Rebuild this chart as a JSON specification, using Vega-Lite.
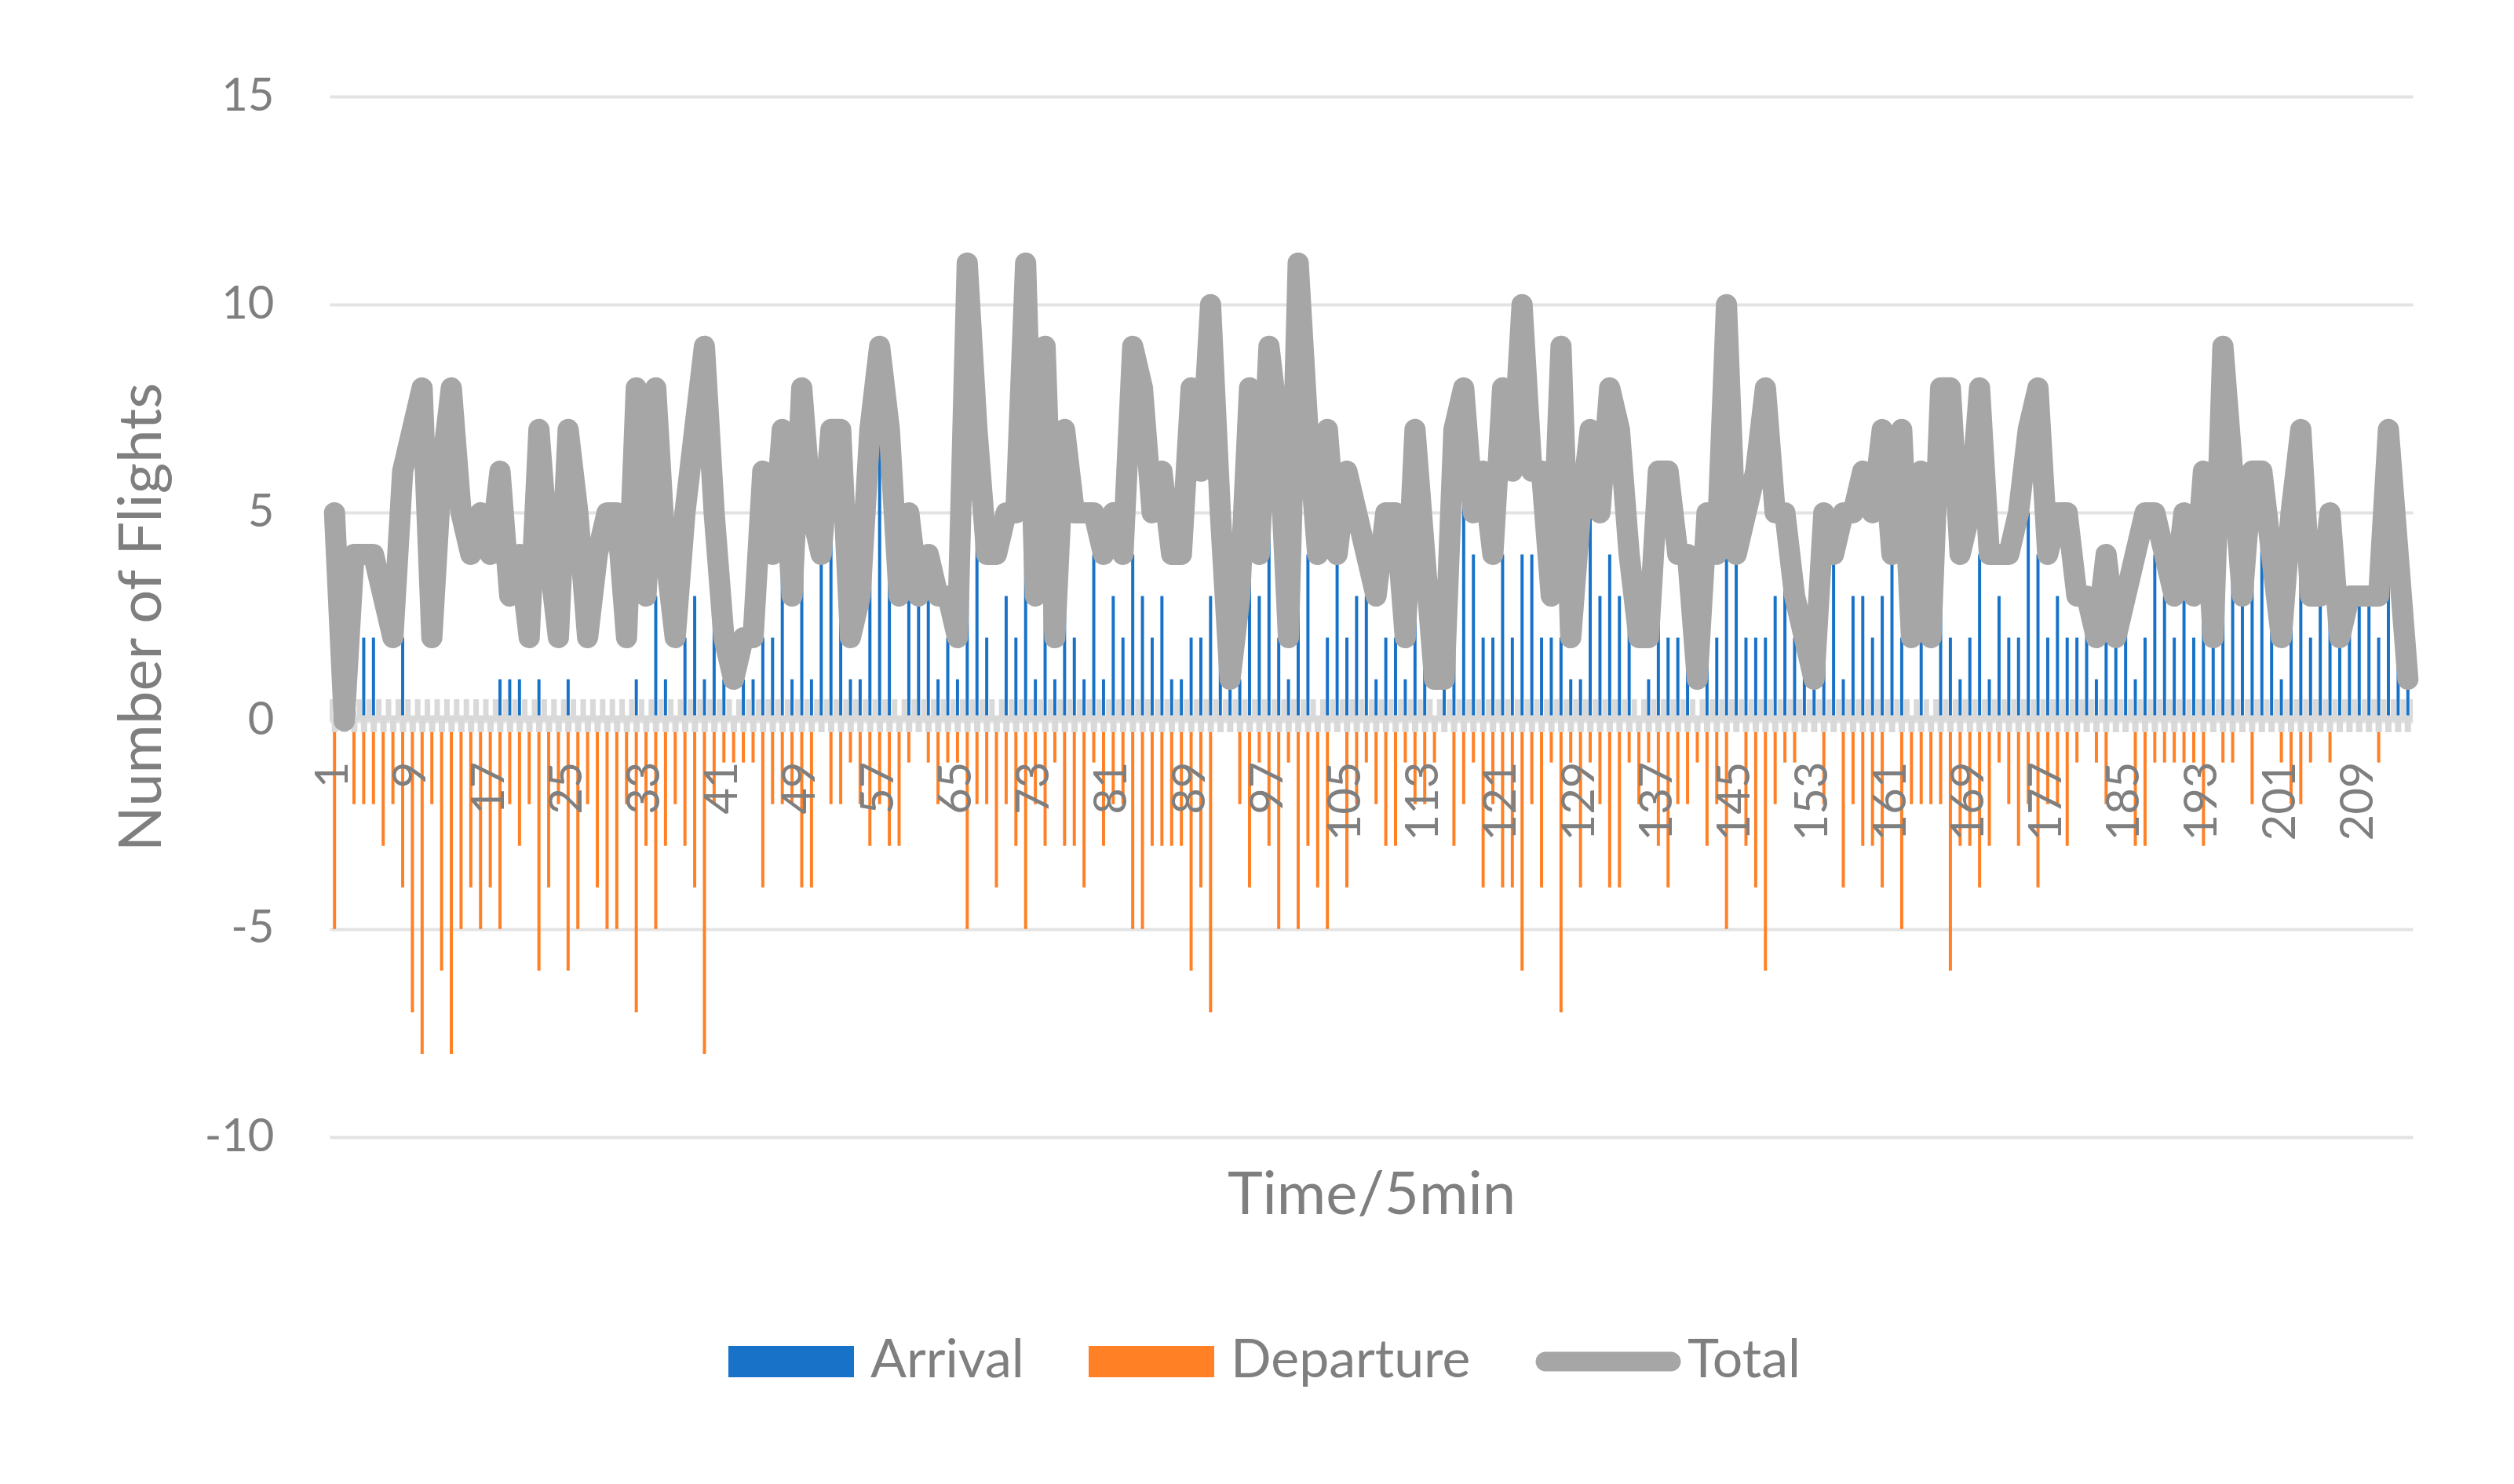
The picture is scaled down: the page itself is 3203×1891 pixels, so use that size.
{
"$schema":"https://vega.github.io/schema/vega-lite/v6.json",
"width":2654,"height":1326,
"autosize":{"type":"none"},
"padding":{"left":420,"top":123,"right":129,"bottom":442},
"background":"white",
"config":{"view":{"stroke":null},"font":"Lato"},
"data":{"values":[
{"t":1,"Arrival":0,"Departure":-5,"Total":5},{"t":2,"Arrival":0,"Departure":0,"Total":0},{"t":3,"Arrival":2,"Departure":-2,"Total":4},{"t":4,"Arrival":2,"Departure":-2,"Total":4},{"t":5,"Arrival":2,"Departure":-2,"Total":4},{"t":6,"Arrival":0,"Departure":-3,"Total":3},{"t":7,"Arrival":0,"Departure":-2,"Total":2},{"t":8,"Arrival":2,"Departure":-4,"Total":6},{"t":9,"Arrival":0,"Departure":-7,"Total":7},{"t":10,"Arrival":0,"Departure":-8,"Total":8},
{"t":11,"Arrival":0,"Departure":-2,"Total":2},{"t":12,"Arrival":0,"Departure":-6,"Total":6},{"t":13,"Arrival":0,"Departure":-8,"Total":8},{"t":14,"Arrival":0,"Departure":-5,"Total":5},{"t":15,"Arrival":0,"Departure":-4,"Total":4},{"t":16,"Arrival":0,"Departure":-5,"Total":5},{"t":17,"Arrival":0,"Departure":-4,"Total":4},{"t":18,"Arrival":1,"Departure":-5,"Total":6},{"t":19,"Arrival":1,"Departure":-2,"Total":3},{"t":20,"Arrival":1,"Departure":-3,"Total":4},
{"t":21,"Arrival":0,"Departure":-2,"Total":2},{"t":22,"Arrival":1,"Departure":-6,"Total":7},{"t":23,"Arrival":0,"Departure":-4,"Total":4},{"t":24,"Arrival":0,"Departure":-2,"Total":2},{"t":25,"Arrival":1,"Departure":-6,"Total":7},{"t":26,"Arrival":0,"Departure":-5,"Total":5},{"t":27,"Arrival":0,"Departure":-2,"Total":2},{"t":28,"Arrival":0,"Departure":-4,"Total":4},{"t":29,"Arrival":0,"Departure":-5,"Total":5},{"t":30,"Arrival":0,"Departure":-5,"Total":5},
{"t":31,"Arrival":0,"Departure":-2,"Total":2},{"t":32,"Arrival":1,"Departure":-7,"Total":8},{"t":33,"Arrival":0,"Departure":-3,"Total":3},{"t":34,"Arrival":3,"Departure":-5,"Total":8},{"t":35,"Arrival":1,"Departure":-3,"Total":4},{"t":36,"Arrival":0,"Departure":-2,"Total":2},{"t":37,"Arrival":2,"Departure":-3,"Total":5},{"t":38,"Arrival":3,"Departure":-4,"Total":7},{"t":39,"Arrival":1,"Departure":-8,"Total":9},{"t":40,"Arrival":3,"Departure":-2,"Total":5},
{"t":41,"Arrival":1,"Departure":-1,"Total":2},{"t":42,"Arrival":0,"Departure":-1,"Total":1},{"t":43,"Arrival":1,"Departure":-1,"Total":2},{"t":44,"Arrival":1,"Departure":-1,"Total":2},{"t":45,"Arrival":2,"Departure":-4,"Total":6},{"t":46,"Arrival":2,"Departure":-2,"Total":4},{"t":47,"Arrival":5,"Departure":-2,"Total":7},{"t":48,"Arrival":1,"Departure":-2,"Total":3},{"t":49,"Arrival":4,"Departure":-4,"Total":8},{"t":50,"Arrival":1,"Departure":-4,"Total":5},
{"t":51,"Arrival":4,"Departure":0,"Total":4},{"t":52,"Arrival":5,"Departure":-2,"Total":7},{"t":53,"Arrival":5,"Departure":-2,"Total":7},{"t":54,"Arrival":1,"Departure":-1,"Total":2},{"t":55,"Arrival":1,"Departure":-2,"Total":3},{"t":56,"Arrival":4,"Departure":-3,"Total":7},{"t":57,"Arrival":7,"Departure":-2,"Total":9},{"t":58,"Arrival":4,"Departure":-3,"Total":7},{"t":59,"Arrival":0,"Departure":-3,"Total":3},{"t":60,"Arrival":4,"Departure":-1,"Total":5},
{"t":61,"Arrival":3,"Departure":0,"Total":3},{"t":62,"Arrival":3,"Departure":-1,"Total":4},{"t":63,"Arrival":1,"Departure":-2,"Total":3},{"t":64,"Arrival":2,"Departure":-1,"Total":3},{"t":65,"Arrival":1,"Departure":-1,"Total":2},{"t":66,"Arrival":6,"Departure":-5,"Total":11},{"t":67,"Arrival":5,"Departure":-2,"Total":7},{"t":68,"Arrival":2,"Departure":-2,"Total":4},{"t":69,"Arrival":0,"Departure":-4,"Total":4},{"t":70,"Arrival":3,"Departure":-2,"Total":5},
{"t":71,"Arrival":2,"Departure":-3,"Total":5},{"t":72,"Arrival":6,"Departure":-5,"Total":11},{"t":73,"Arrival":1,"Departure":-2,"Total":3},{"t":74,"Arrival":6,"Departure":-3,"Total":9},{"t":75,"Arrival":1,"Departure":-1,"Total":2},{"t":76,"Arrival":4,"Departure":-3,"Total":7},{"t":77,"Arrival":2,"Departure":-3,"Total":5},{"t":78,"Arrival":1,"Departure":-4,"Total":5},{"t":79,"Arrival":4,"Departure":-1,"Total":5},{"t":80,"Arrival":1,"Departure":-3,"Total":4},
{"t":81,"Arrival":3,"Departure":-2,"Total":5},{"t":82,"Arrival":2,"Departure":-2,"Total":4},{"t":83,"Arrival":4,"Departure":-5,"Total":9},{"t":84,"Arrival":3,"Departure":-5,"Total":8},{"t":85,"Arrival":2,"Departure":-3,"Total":5},{"t":86,"Arrival":3,"Departure":-3,"Total":6},{"t":87,"Arrival":1,"Departure":-3,"Total":4},{"t":88,"Arrival":1,"Departure":-3,"Total":4},{"t":89,"Arrival":2,"Departure":-6,"Total":8},{"t":90,"Arrival":2,"Departure":-4,"Total":6},
{"t":91,"Arrival":3,"Departure":-7,"Total":10},{"t":92,"Arrival":5,"Departure":0,"Total":5},{"t":93,"Arrival":1,"Departure":0,"Total":1},{"t":94,"Arrival":1,"Departure":-2,"Total":3},{"t":95,"Arrival":4,"Departure":-4,"Total":8},{"t":96,"Arrival":3,"Departure":-1,"Total":4},{"t":97,"Arrival":6,"Departure":-3,"Total":9},{"t":98,"Arrival":2,"Departure":-5,"Total":7},{"t":99,"Arrival":1,"Departure":-1,"Total":2},{"t":100,"Arrival":6,"Departure":-5,"Total":11},
{"t":101,"Arrival":4,"Departure":-3,"Total":7},{"t":102,"Arrival":0,"Departure":-4,"Total":4},{"t":103,"Arrival":2,"Departure":-5,"Total":7},{"t":104,"Arrival":4,"Departure":0,"Total":4},{"t":105,"Arrival":2,"Departure":-4,"Total":6},{"t":106,"Arrival":3,"Departure":-2,"Total":5},{"t":107,"Arrival":3,"Departure":-1,"Total":4},{"t":108,"Arrival":1,"Departure":-2,"Total":3},{"t":109,"Arrival":2,"Departure":-3,"Total":5},{"t":110,"Arrival":2,"Departure":-3,"Total":5},
{"t":111,"Arrival":1,"Departure":-1,"Total":2},{"t":112,"Arrival":5,"Departure":-2,"Total":7},{"t":113,"Arrival":2,"Departure":-2,"Total":4},{"t":114,"Arrival":0,"Departure":-1,"Total":1},{"t":115,"Arrival":1,"Departure":0,"Total":1},{"t":116,"Arrival":4,"Departure":-3,"Total":7},{"t":117,"Arrival":6,"Departure":-2,"Total":8},{"t":118,"Arrival":4,"Departure":-1,"Total":5},{"t":119,"Arrival":2,"Departure":-4,"Total":6},{"t":120,"Arrival":2,"Departure":-2,"Total":4},
{"t":121,"Arrival":4,"Departure":-4,"Total":8},{"t":122,"Arrival":2,"Departure":-4,"Total":6},{"t":123,"Arrival":4,"Departure":-6,"Total":10},{"t":124,"Arrival":4,"Departure":-2,"Total":6},{"t":125,"Arrival":2,"Departure":-4,"Total":6},{"t":126,"Arrival":2,"Departure":-1,"Total":3},{"t":127,"Arrival":2,"Departure":-7,"Total":9},{"t":128,"Arrival":1,"Departure":-1,"Total":2},{"t":129,"Arrival":1,"Departure":-4,"Total":5},{"t":130,"Arrival":6,"Departure":-1,"Total":7},
{"t":131,"Arrival":3,"Departure":-2,"Total":5},{"t":132,"Arrival":4,"Departure":-4,"Total":8},{"t":133,"Arrival":3,"Departure":-4,"Total":7},{"t":134,"Arrival":3,"Departure":-1,"Total":4},{"t":135,"Arrival":0,"Departure":-2,"Total":2},{"t":136,"Arrival":1,"Departure":-1,"Total":2},{"t":137,"Arrival":3,"Departure":-3,"Total":6},{"t":138,"Arrival":2,"Departure":-4,"Total":6},{"t":139,"Arrival":2,"Departure":-2,"Total":4},{"t":140,"Arrival":2,"Departure":-2,"Total":4},
{"t":141,"Arrival":0,"Departure":-1,"Total":1},{"t":142,"Arrival":2,"Departure":-3,"Total":5},{"t":143,"Arrival":2,"Departure":-2,"Total":4},{"t":144,"Arrival":5,"Departure":-5,"Total":10},{"t":145,"Arrival":4,"Departure":0,"Total":4},{"t":146,"Arrival":2,"Departure":-3,"Total":5},{"t":147,"Arrival":2,"Departure":-4,"Total":6},{"t":148,"Arrival":2,"Departure":-6,"Total":8},{"t":149,"Arrival":3,"Departure":-2,"Total":5},{"t":150,"Arrival":4,"Departure":-1,"Total":5},
{"t":151,"Arrival":2,"Departure":-1,"Total":3},{"t":152,"Arrival":2,"Departure":0,"Total":2},{"t":153,"Arrival":1,"Departure":0,"Total":1},{"t":154,"Arrival":3,"Departure":-2,"Total":5},{"t":155,"Arrival":4,"Departure":0,"Total":4},{"t":156,"Arrival":1,"Departure":-4,"Total":5},{"t":157,"Arrival":3,"Departure":-2,"Total":5},{"t":158,"Arrival":3,"Departure":-3,"Total":6},{"t":159,"Arrival":2,"Departure":-3,"Total":5},{"t":160,"Arrival":3,"Departure":-4,"Total":7},
{"t":161,"Arrival":4,"Departure":0,"Total":4},{"t":162,"Arrival":2,"Departure":-5,"Total":7},{"t":163,"Arrival":0,"Departure":-2,"Total":2},{"t":164,"Arrival":4,"Departure":-2,"Total":6},{"t":165,"Arrival":0,"Departure":-2,"Total":2},{"t":166,"Arrival":6,"Departure":-2,"Total":8},{"t":167,"Arrival":2,"Departure":-6,"Total":8},{"t":168,"Arrival":1,"Departure":-3,"Total":4},{"t":169,"Arrival":2,"Departure":-3,"Total":5},{"t":170,"Arrival":4,"Departure":-4,"Total":8},
{"t":171,"Arrival":1,"Departure":-3,"Total":4},{"t":172,"Arrival":3,"Departure":-1,"Total":4},{"t":173,"Arrival":2,"Departure":-2,"Total":4},{"t":174,"Arrival":2,"Departure":-3,"Total":5},{"t":175,"Arrival":5,"Departure":-2,"Total":7},{"t":176,"Arrival":4,"Departure":-4,"Total":8},{"t":177,"Arrival":2,"Departure":-2,"Total":4},{"t":178,"Arrival":3,"Departure":-2,"Total":5},{"t":179,"Arrival":2,"Departure":-3,"Total":5},{"t":180,"Arrival":2,"Departure":-1,"Total":3},
{"t":181,"Arrival":3,"Departure":0,"Total":3},{"t":182,"Arrival":1,"Departure":-1,"Total":2},{"t":183,"Arrival":2,"Departure":-2,"Total":4},{"t":184,"Arrival":2,"Departure":0,"Total":2},{"t":185,"Arrival":3,"Departure":0,"Total":3},{"t":186,"Arrival":1,"Departure":-3,"Total":4},{"t":187,"Arrival":2,"Departure":-3,"Total":5},{"t":188,"Arrival":4,"Departure":-1,"Total":5},{"t":189,"Arrival":3,"Departure":-1,"Total":4},{"t":190,"Arrival":2,"Departure":-1,"Total":3},
{"t":191,"Arrival":4,"Departure":-1,"Total":5},{"t":192,"Arrival":2,"Departure":-1,"Total":3},{"t":193,"Arrival":3,"Departure":-3,"Total":6},{"t":194,"Arrival":2,"Departure":0,"Total":2},{"t":195,"Arrival":8,"Departure":-1,"Total":9},{"t":196,"Arrival":5,"Departure":-1,"Total":6},{"t":197,"Arrival":3,"Departure":0,"Total":3},{"t":198,"Arrival":4,"Departure":-2,"Total":6},{"t":199,"Arrival":6,"Departure":0,"Total":6},{"t":200,"Arrival":4,"Departure":0,"Total":4},
{"t":201,"Arrival":1,"Departure":-1,"Total":2},{"t":202,"Arrival":3,"Departure":-2,"Total":5},{"t":203,"Arrival":5,"Departure":-2,"Total":7},{"t":204,"Arrival":2,"Departure":-1,"Total":3},{"t":205,"Arrival":3,"Departure":0,"Total":3},{"t":206,"Arrival":4,"Departure":-1,"Total":5},{"t":207,"Arrival":2,"Departure":0,"Total":2},{"t":208,"Arrival":3,"Departure":0,"Total":3},{"t":209,"Arrival":3,"Departure":0,"Total":3},{"t":210,"Arrival":3,"Departure":0,"Total":3},
{"t":211,"Arrival":2,"Departure":-1,"Total":3},{"t":212,"Arrival":7,"Departure":0,"Total":7},{"t":213,"Arrival":4,"Departure":0,"Total":4},{"t":214,"Arrival":1,"Departure":0,"Total":1}
]},
"layer":[
{"transform":[{"fold":["Arrival","Departure"],"as":["series","n"]}],
 "mark":{"type":"bar","width":{"band":0.32}},
 "encoding":{
  "x":{"field":"t","type":"ordinal","title":"Time/5min","scale":{"paddingInner":0,"paddingOuter":0},
   "axis":{"title":"Time/5min","values":[1,9,17,25,33,41,49,57,65,73,81,89,97,105,113,121,129,137,145,153,161,169,177,185,193,201,209],"orient":"bottom","offset":-530,"labelAngle":-90,"labelPadding":51,"ticks":false,"tickSize":0,"domain":false,"grid":false,"labelFont":"Lato","labelFontSize":58,"labelColor":"#7F7F7F","labelOverlap":false,"labelBound":false,"titleFont":"Lato","titleFontSize":76,"titleFontWeight":"normal","titleColor":"#7F7F7F","titleY":627,"titleBaseline":"alphabetic","zindex":1}},
  "y":{"field":"n","type":"quantitative","title":"Number of Flights","scale":{"domain":[-10,15],"nice":false,"zero":false},
   "axis":{"title":"Number of Flights","values":[-10,-5,0,5,10,15],"labelExpr":"'' + datum.value","grid":true,"gridColor":"#E3E3E3","gridWidth":4,"domain":false,"ticks":false,"tickSize":0,"labelPadding":71,"labelFont":"Lato","labelFontSize":58,"labelColor":"#7F7F7F","titleFont":"Lato","titleFontSize":76,"titleFontWeight":"normal","titleColor":"#7F7F7F","titleX":-239,"titleBaseline":"middle","zindex":0}},
  "color":{"field":"series","type":"nominal","scale":{"domain":["Arrival","Departure","Total"],"range":["#1873C8","#FF8025","#A6A6A6"]},
   "legend":{"title":null,"orient":"none","legendX":508,"legendY":1532,"direction":"horizontal","padding":0,"symbolSize":25600,"symbolStrokeWidth":0,"labelFont":"Lato","labelFontSize":68,"labelColor":"#7F7F7F","labelOffset":21,"labelLimit":0,"columnPadding":82,
    "encode":{"symbols":{"update":{"shape":{"signal":"datum.value === 'Total' ? 'M-1,-0.156H1A0.156,0.156 0 0 1 1,0.156H-1A0.156,0.156 0 0 1 -1,-0.156Z' : 'M-1,-0.25H1V0.25H-1Z'"},"fill":{"signal":"datum.value === 'Arrival' ? '#1873C8' : datum.value === 'Departure' ? '#FF8025' : '#A6A6A6'"},"strokeWidth":{"value":0},"opacity":{"value":1}}}}}}
 }},
{"data":{"values":[{"v":0}]},"mark":{"type":"rule","color":"#D9D9D9","strokeWidth":21,"strokeDash":[7,5.4],"strokeDashOffset":3.7,"yOffset":-17},"encoding":{"y":{"field":"v","type":"quantitative"}}},
{"data":{"values":[{"v":0}]},"mark":{"type":"rule","color":"#D9D9D9","strokeWidth":7,"yOffset":-3.5},"encoding":{"y":{"field":"v","type":"quantitative"}}},
{"data":{"values":[{"v":0}]},"mark":{"type":"rule","color":"#D9D9D9","strokeWidth":15,"strokeDash":[8,4.4],"strokeDashOffset":10.2,"yOffset":7},"encoding":{"y":{"field":"v","type":"quantitative"}}},
{"mark":{"type":"line","strokeWidth":27,"strokeJoin":"round","strokeCap":"round"},
 "encoding":{"x":{"field":"t","type":"ordinal"},"y":{"field":"Total","type":"quantitative"},"color":{"datum":"Total"}}}
]
}
